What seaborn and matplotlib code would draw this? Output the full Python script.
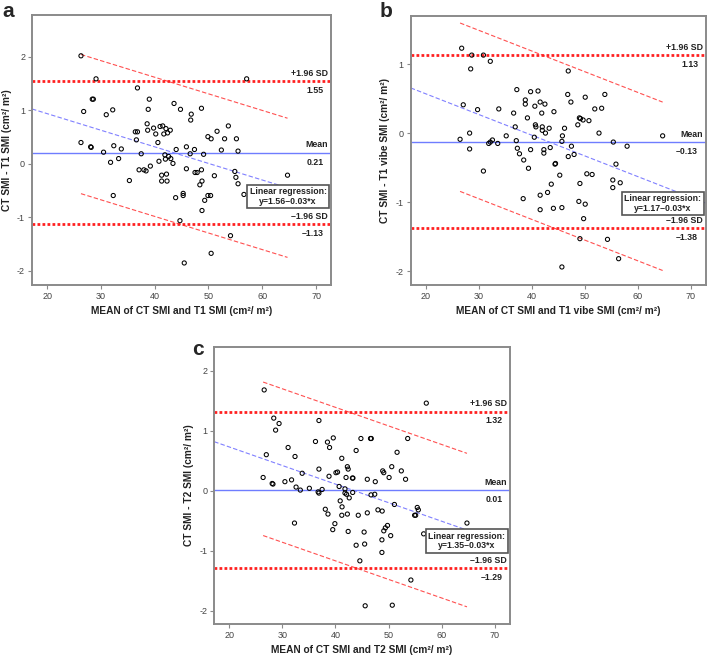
import numpy as np
import matplotlib
matplotlib.use('Agg')
import matplotlib.pyplot as plt
import seaborn as sns

sns.set_style('white')
plt.rcParams['font.family'] = ['Liberation Sans', 'DejaVu Sans']
plt.rcParams['axes.unicode_minus'] = False

# ---- data ----
# panel a: CT vs T1
a_x = [26.3, 29.1, 28.4, 28.6, 26.8, 31.0, 32.2, 26.3, 28.1, 28.2, 30.5, 31.8, 32.4, 33.3, 33.8,
       32.3, 35.3, 36.8, 36.4, 36.8, 36.6, 37.5, 37.1, 38.0, 38.4, 38.6, 38.7, 38.8, 39.0, 39.2,
       39.8, 40.2, 40.6, 40.8, 41.0, 41.5, 41.3, 41.3, 41.7, 41.9, 42.0, 42.1, 42.2, 42.3, 42.4,
       42.6, 42.9, 43.0, 43.4, 43.6, 44.0, 43.9, 44.8, 44.7, 45.3, 45.3, 45.5, 45.9, 45.9, 46.6,
       46.7, 46.8, 47.4, 47.5, 47.9, 48.4, 48.7, 48.7, 48.8, 48.8, 49.1, 49.3, 49.9, 49.9, 50.4,
       50.5, 50.5, 51.1, 51.6, 52.4, 53.0, 53.7, 54.1, 54.9, 55.1, 55.2, 55.5, 55.5, 56.6, 57.1,
       64.7]
a_y = [2.02, 1.59, 1.21, 1.21, 0.98, 0.92, 1.01, 0.40, 0.32, 0.31, 0.22, 0.03, 0.34, 0.10, 0.28,
       -0.59, -0.31, 1.42, 0.60, 0.60, 0.45, 0.19, -0.11, -0.11, -0.13, 0.75, 0.63, 1.02, 1.21, -0.04,
       0.67, 0.56, 0.40, 0.05, 0.70, 0.71, -0.21, -0.32, 0.56, 0.17, 0.09, 0.66, -0.19, -0.32, 0.58,
       0.14, 0.63, 0.10, 0.01, 1.13, 0.27, -0.63, 1.02, -1.06, -0.55, -0.59, -1.85, -0.09, 0.32, 0.19,
       0.82, 0.93, 0.27, -0.16, -0.16, -0.39, 1.04, -0.11, -0.32, -0.87, 0.18, -0.68, 0.51, -0.59, -0.59,
       0.47, -1.67, -0.22, 0.61, 0.26, 0.47, 0.71, -1.34, -0.14, -0.25, 0.47, 0.24, -0.37, -0.57, 1.59,
       -0.21]

# panel b: CT vs T1 vibe
b_x = [26.8, 28.7, 30.9, 28.5, 32.2, 27.1, 29.8, 26.5, 28.3, 28.3, 30.9, 31.9, 32.2, 32.6, 33.6,
       33.8, 35.2, 36.6, 36.9, 37.1, 37.2, 37.3, 37.7, 38.5, 38.8, 38.8, 39.2, 39.4, 39.8, 39.8,
       38.4, 40.5, 40.6, 40.7, 40.8, 41.2, 41.6, 41.9, 42.0, 42.0, 42.5, 42.3, 42.3, 42.6, 43.3,
       43.5, 41.6, 41.6, 43.0, 43.7, 44.2, 44.1, 44.4, 44.5, 45.7, 45.8, 46.2, 45.3, 45.7, 45.7,
       46.8, 46.9, 46.9, 47.4, 47.5, 48.0, 48.7, 49.0, 49.2, 49.7, 50.1, 50.8, 49.1, 48.9, 49.1,
       49.8, 50.1, 50.4, 51.4, 51.9, 53.2, 53.8, 52.7, 54.3, 55.3, 55.3, 55.4, 55.9, 56.4, 56.7,
       58.0, 64.7]
b_y = [1.23, 1.13, 1.13, 0.93, 1.04, 0.41, 0.34, -0.09, 0.00, -0.23, -0.55, -0.15, -0.13, -0.10, -0.15,
       0.35, -0.04, 0.29, 0.09, -0.11, 0.63, -0.22, -0.30, -0.39, 0.48, 0.42, 0.22, -0.51, 0.60, -0.24,
       -0.95, -0.06, 0.39, 0.12, 0.09, 0.61, 0.45, 0.29, 0.09, 0.04, 0.42, -0.24, -0.29, 0.00, 0.07,
       -0.21, -0.90, -1.11, -0.86, -0.74, 0.31, -1.09, -0.45, -0.44, -0.12, -0.04, 0.07, -0.61, -1.08, -1.94,
       0.56, -0.34, 0.90, 0.45, -0.19, -0.31, 0.12, 0.22, 0.21, 0.19, 0.52, 0.18, -0.73, -0.99, -1.53,
       -1.24, -1.03, -0.59, -0.60, 0.35, 0.36, 0.56, 0.00, -1.54, -0.68, -0.79, -0.13, -0.45, -1.82, -0.72,
       -0.19, -0.04]

# panel c: CT vs T2
c_x = [26.6, 28.4, 29.4, 28.75, 36.9, 36.25, 38.5, 38.9, 39.6, 31.1, 27.0, 32.4, 44.8, 43.9, 41.2,
       26.4, 28.1, 28.25, 30.5, 31.75, 33.75, 36.9, 38.8, 40.1, 40.4, 42.25, 42.4, 42.0, 43.2, 43.3,
       32.6, 33.4, 35.1, 36.75, 36.9, 37.5, 40.7, 41.8, 41.8, 42.1, 42.6, 43.25, 40.9, 41.25, 38.1,
       38.6, 41.2, 42.25, 44.3, 39.9, 39.5, 42.4, 32.3, 43.9, 44.6, 57.1, 46.6, 46.75, 53.6, 51.6,
       48.9, 49.1, 50.6, 52.4, 50.1, 53.2, 46.0, 47.5, 46.7, 47.4, 51.1, 55.4, 55.6, 54.9, 55.1,
       46.0, 48.0, 48.8, 64.75, 56.6, 45.4, 49.8, 49.4, 49.1, 50.4, 48.75, 45.5, 48.75, 54.2, 45.6,
       50.7]
c_y = [1.68, 1.21, 1.12, 1.01, 1.17, 0.82, 0.81, 0.72, 0.88, 0.72, 0.60, 0.57, 0.87, 0.67, 0.54,
       0.22, 0.12, 0.11, 0.15, 0.18, 0.29, 0.36, 0.24, 0.30, 0.31, 0.40, 0.36, 0.22, 0.21, 0.21,
       0.06, 0.01, 0.04, -0.02, -0.04, 0.02, 0.07, 0.03, -0.04, -0.06, -0.12, -0.03, -0.17, -0.27, -0.31,
       -0.39, -0.41, -0.39, -0.41, -0.55, -0.65, -0.68, -0.54, -0.91, -1.17, 1.46, 0.87, 0.87, 0.87, 0.64,
       0.33, 0.30, 0.40, 0.33, 0.22, 0.19, 0.19, 0.15, -0.07, -0.06, -0.23, -0.28, -0.32, -0.41, -0.41,
       -0.37, -0.32, -0.34, -0.54, -0.72, -0.69, -0.58, -0.62, -0.67, -0.75, -0.82, -0.89, -1.03, -1.49, -1.92,
       -1.91]

means = [0.21, -0.13, 0.01]
upper_loa = [1.55, 1.13, 1.32]
lower_loa = [-1.13, -1.38, -1.29]
intercepts = [1.56, 1.17, 1.35]
slopes = [-0.031, -0.030, -0.031]
band_half = [1.30, 1.22, 1.28]
reg_text = ['y=1.56\u20130.03*x', 'y=1.17\u20130.03*x', 'y=1.35\u20130.03*x']
x_labels = ['MEAN of CT SMI and T1 SMI (cm\u00b2/ m\u00b2)',
            'MEAN of CT SMI and T1 vibe SMI (cm\u00b2/ m\u00b2)',
            'MEAN of CT SMI and T2 SMI (cm\u00b2/ m\u00b2)']
y_labels = ['CT SMI - T1 SMI (cm\u00b2/ m\u00b2)',
            'CT SMI - T1 vibe SMI (cm\u00b2/ m\u00b2)',
            'CT SMI - T2 SMI (cm\u00b2/ m\u00b2)']
y_lims = [(-2.26, 2.78), (-2.2, 1.69), (-2.22, 2.4)]
y_ticks = [[-2, -1, 0, 1, 2], [-2, -1, 0, 1], [-2, -1, 0, 1, 2]]
x_ticks = [20, 30, 40, 50, 60, 70]
box_y = [-0.61, -1.02, -0.84]
letters = ['a', 'b', 'c']


def fmt(v):
    return ('\u2013%.2f' % abs(v)) if v < 0 else '%.2f' % v


fig = plt.figure(figsize=(7.07, 6.58), dpi=100)
axes = [fig.add_axes([0.0453, 0.567, 0.423, 0.410]),
        fig.add_axes([0.581, 0.567, 0.417, 0.408]),
        fig.add_axes([0.303, 0.052, 0.418, 0.421])]
xs = [a_x, b_x, c_x]
ys = [a_y, b_y, c_y]
frame = '#8a8a8a'
xlim = (17.2, 72.8)

for i, ax in enumerate(axes):
    x = np.array(xs[i])
    y = np.array(ys[i])

    # regression line over the whole axis, confidence-style band over the data range
    xx = np.array(xlim)
    ax.plot(xx, intercepts[i] + slopes[i] * xx, color='#8080ff', lw=0.8, ls=(0, (4, 2)), zorder=1)
    xb = np.array([x.min(), x.max()])
    reg = intercepts[i] + slopes[i] * xb
    ax.plot(xb, reg + band_half[i], color='#ff5050', lw=0.8, ls=(0, (4, 2)), zorder=1)
    ax.plot(xb, reg - band_half[i], color='#ff5050', lw=0.8, ls=(0, (4, 2)), zorder=1)
    ax.axhline(means[i], color='#6f7dff', lw=1.0, zorder=1)
    ax.axhline(upper_loa[i], color='#ff2020', lw=2.0, ls=(0, (1, 0.8)), zorder=1)
    ax.axhline(lower_loa[i], color='#ff2020', lw=2.0, ls=(0, (1, 0.8)), zorder=1)

    sns.scatterplot(x=x, y=y, ax=ax, color='black', s=9, zorder=3)
    pts = ax.collections[-1]
    pts.set_facecolor('none')
    pts.set_edgecolor('black')
    pts.set_linewidth(0.75)

    # labels on the lines
    tk = dict(fontsize=6.3, fontweight='bold', color='#222222', ha='right',
              xycoords=('axes fraction', 'data'), textcoords='offset points')
    for val, head in [(upper_loa[i], '+1.96 SD'), (means[i], 'Mean'), (lower_loa[i], '\u20131.96 SD')]:
        ax.annotate(head, xy=(0.99, val), xytext=(0, 2.5), va='bottom', **tk)
        ax.annotate(fmt(val), xy=(0.975, val), xytext=(0, -3.5), va='top', **tk)

    ax.text(0.985, box_y[i], 'Linear regression:\n' + reg_text[i],
            transform=ax.get_yaxis_transform(), ha='right', va='center',
            fontsize=6.3, fontweight='bold', color='#222222', linespacing=1.05,
            multialignment='center', zorder=4,
            bbox=dict(boxstyle='square,pad=0.3', fc='white', ec='#555555', lw=1.2))

    ax.set_xlim(xlim)
    ax.set_ylim(y_lims[i])
    ax.set_xticks(x_ticks)
    ax.set_yticks(y_ticks[i])
    ax.tick_params(axis='both', which='both', direction='out', length=3, width=0.8,
                   color=frame, labelsize=6.5, labelcolor='#444444', pad=2,
                   bottom=True, left=True)
    for sp in ax.spines.values():
        sp.set_color(frame)
        sp.set_linewidth(1.4)
    ax.set_xlabel(x_labels[i], fontsize=7.3, fontweight='bold', color='#222222', labelpad=4)
    ax.set_ylabel(y_labels[i], fontsize=7.3, fontweight='bold', color='#222222', labelpad=4)

fig.text(0.004, 0.997, 'a', fontsize=15, fontweight='bold', va='top', ha='left')
fig.text(0.537, 0.997, 'b', fontsize=15, fontweight='bold', va='top', ha='left')
fig.text(0.272, 0.483, 'c', fontsize=15, fontweight='bold', va='top', ha='left')

fig.savefig('out.png', dpi=100)
